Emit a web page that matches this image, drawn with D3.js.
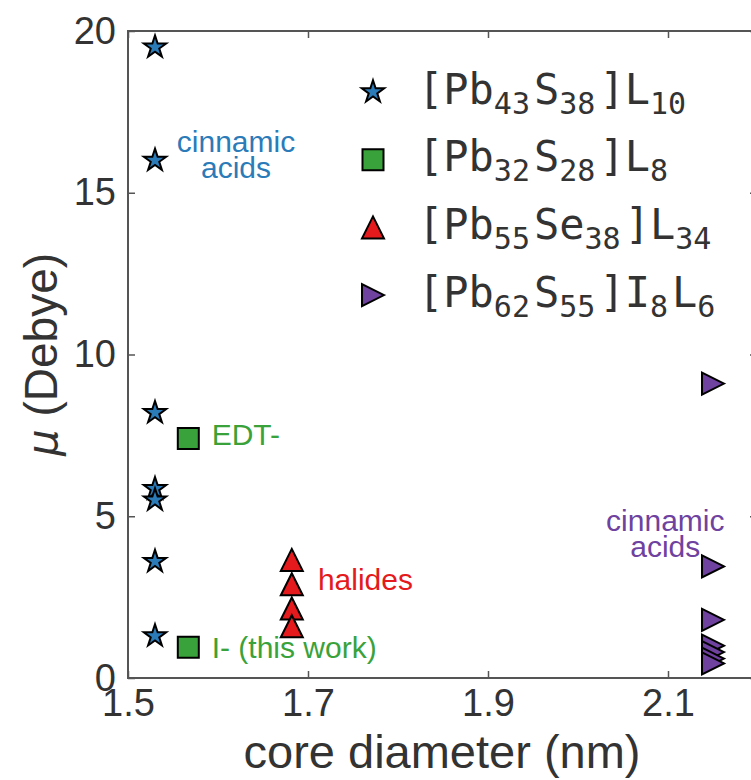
<!DOCTYPE html>
<html>
<head>
<meta charset="utf-8">
<script src="https://cdn.jsdelivr.net/npm/d3@7"></script>
<style>
  html, body { margin: 0; padding: 0; background: #fff; }
  svg { display: block; }
</style>
</head>
<body>
<svg id="chart" width="751" height="780"></svg>
<script>
// Core diameter (nm) and dipole moment (Debye) for each cluster family
const xTicks = [1.5, 1.7, 1.9, 2.1];
const yTicks = [0, 5, 10, 15, 20];

const pb43Diameter = 1.53;
const pb43Dipole = [19.5, 16.0, 8.2, 5.85, 5.5, 3.6, 1.3];

const pb32Diameter = 1.567;
const pb32Dipole = [7.4, 0.95];

const pb55Diameter = 1.682;
const pb55Dipole = [3.65, 2.9, 2.15, 1.6];

const pb62Diameter = 2.15;
const pb62Dipole = [9.1, 3.45, 1.8, 1.0, 0.8, 0.6, 0.45];

// Legend entries: plain / subscript fragments of each formula
const seriesNames = [
  [["[Pb", false], ["43", true], ["S", false], ["38", true], ["]L", false], ["10", true]],
  [["[Pb", false], ["32", true], ["S", false], ["28", true], ["]L", false], ["8", true]],
  [["[Pb", false], ["55", true], ["Se", false], ["38", true], ["]L", false], ["34", true]],
  [["[Pb", false], ["62", true], ["S", false], ["55", true], ["]I", false], ["8", true], ["L", false], ["6", true]]
];

// Ligand annotations (text, diameter, dipole of first baseline, series index, anchor)
const noteText = [["cinnamic", "acids"], ["EDT-"], ["I- (this work)"], ["halides"], ["cinnamic", "acids"]];
const noteX = [1.62, 1.593, 1.593, 1.711, 2.097];
const noteY = [16.25, 7.2, 0.62, 2.72, 4.55];
const noteSeries = [0, 1, 1, 2, 3];
const noteAnchor = ["middle", "start", "start", "start", "middle"];

const colors = ["#2c7bb9", "#3aa23a", "#e41a1c", "#6f429f"];
const shapes = ["star", "square", "triangleUp", "triangleRight"];

const svg = d3.select("#chart");
const plotLeft = 128, plotRight = 758, plotTop = 31, plotBottom = 678;

const x = d3.scaleLinear().domain([1.5, 2.2]).range([plotLeft, plotRight]);
const y = d3.scaleLinear().domain([0, 20]).range([plotBottom, plotTop]);

function markerPath(kind) {
  if (kind === "star") return d3.symbol(d3.symbolStar, 155)();
  if (kind === "square") return d3.symbol(d3.symbolSquare, 441)();
  const s = 11;
  if (kind === "triangleUp") return `M0,${-s}L${-s},${s}L${s},${s}Z`;
  return `M${s},0L${-s},${-s}L${-s},${s}Z`;
}

const series = [
  { d: pb43Diameter, v: pb43Dipole },
  { d: pb32Diameter, v: pb32Dipole },
  { d: pb55Diameter, v: pb55Dipole },
  { d: pb62Diameter, v: pb62Dipole }
];

svg.append("defs").append("clipPath").attr("id", "plotClip")
  .append("rect").attr("x", plotLeft).attr("y", plotTop)
  .attr("width", plotRight - plotLeft).attr("height", plotBottom - plotTop);

// Data markers
const plot = svg.append("g").attr("clip-path", "url(#plotClip)");
series.forEach((s, i) => {
  plot.append("g").selectAll("path")
    .data(s.v)
    .join("path")
    .attr("d", markerPath(shapes[i]))
    .attr("transform", v => `translate(${x(s.d)},${y(v)})`)
    .attr("fill", colors[i])
    .attr("stroke", "#000")
    .attr("stroke-width", 2)
    .attr("stroke-linejoin", "miter");
});

// Annotations
const notes = svg.append("g")
  .attr("font-family", "'Liberation Sans', Arial, sans-serif")
  .attr("font-size", 30);
noteText.forEach((lines, i) => {
  const t = notes.append("text")
    .attr("x", x(noteX[i]))
    .attr("y", y(noteY[i]))
    .attr("text-anchor", noteAnchor[i])
    .attr("fill", colors[noteSeries[i]]);
  lines.forEach((ln, j) => {
    t.append("tspan")
      .attr("x", x(noteX[i]))
      .attr("dy", j === 0 ? 0 : 26)
      .text(ln);
  });
});

// Axes with inward ticks on all four sides
const tickColor = "#555";
const labelFont = "'Liberation Sans', Arial, sans-serif";

function styleAxis(g) {
  g.select(".domain").remove();
  g.selectAll(".tick line").attr("stroke", tickColor).attr("stroke-width", 1.5);
  g.selectAll(".tick text").attr("fill", "#333").attr("font-family", labelFont).attr("font-size", 38);
}

svg.append("g")
  .attr("transform", `translate(0,${plotBottom})`)
  .call(d3.axisBottom(x).tickValues(xTicks).tickSizeInner(-7).tickSizeOuter(0).tickPadding(11).tickFormat(d3.format(".1f")))
  .call(styleAxis);

svg.append("g")
  .attr("transform", `translate(0,${plotTop})`)
  .call(d3.axisTop(x).tickValues(xTicks).tickSizeInner(-7).tickSizeOuter(0).tickFormat(""))
  .call(styleAxis);

svg.append("g")
  .attr("transform", `translate(${plotLeft},0)`)
  .call(d3.axisLeft(y).tickValues(yTicks).tickSizeInner(-7).tickSizeOuter(0).tickPadding(12).tickFormat(d3.format("d")))
  .call(styleAxis);

svg.append("g")
  .attr("transform", `translate(${plotRight},0)`)
  .call(d3.axisRight(y).tickValues(yTicks).tickSizeInner(-8).tickSizeOuter(0).tickFormat(""))
  .call(styleAxis);

// Frame
svg.append("rect")
  .attr("x", plotLeft).attr("y", plotTop)
  .attr("width", plotRight - plotLeft).attr("height", plotBottom - plotTop)
  .attr("fill", "none").attr("stroke", tickColor).attr("stroke-width", 2);

// Axis titles
svg.append("text")
  .attr("x", (plotLeft + plotRight) / 2 - 1)
  .attr("y", 768)
  .attr("text-anchor", "middle")
  .attr("font-family", labelFont)
  .attr("font-size", 47)
  .attr("fill", "#333")
  .text("core diameter (nm)");

const yTitle = svg.append("text")
  .attr("transform", `translate(57,${(plotTop + plotBottom) / 2}) rotate(-90)`)
  .attr("text-anchor", "middle")
  .attr("font-family", labelFont)
  .attr("font-size", 46)
  .attr("fill", "#333");
yTitle.append("tspan").attr("font-family", "'DejaVu Sans', sans-serif").attr("font-style", "italic").attr("font-size", 42).text("μ");
yTitle.append("tspan").text(" (Debye)");

// Legend
const legend = svg.append("g");
const rowStep = 67.7, rowFirst = 92;
seriesNames.forEach((parts, i) => {
  const cy = rowFirst + i * rowStep;
  legend.append("path")
    .attr("d", markerPath(shapes[i]))
    .attr("transform", `translate(373,${cy})`)
    .attr("fill", colors[i])
    .attr("stroke", "#000")
    .attr("stroke-width", 2);
  const t = legend.append("text")
    .attr("x", 418)
    .attr("y", cy + 11.5)
    .attr("font-family", "'DejaVu Sans Mono', monospace")
    .attr("font-size", 42)
    .attr("fill", "#333");
  let shifted = false;
  parts.forEach(([str, sub]) => {
    const ts = t.append("tspan").text(str);
    if (sub && !shifted) { ts.attr("dy", 10).attr("font-size", 30); shifted = true; }
    else if (sub) { ts.attr("font-size", 30); }
    else if (!sub && shifted) { ts.attr("dy", -10).attr("dx", 4); shifted = false; }
  });
});
</script>
</body>
</html>
